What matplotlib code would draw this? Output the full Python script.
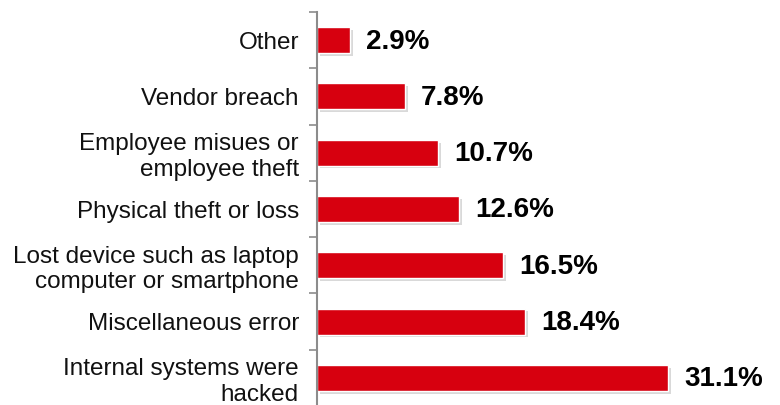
import matplotlib
matplotlib.use("Agg")
import matplotlib.pyplot as plt
import matplotlib.patheffects as pe
import numpy as np

plt.rcParams['font.family'] = ['Liberation Sans', 'DejaVu Sans']

categories = ["Other", "Vendor breach", "Employee misues or\nemployee theft",
              "Physical theft or loss", "Lost device such as laptop\ncomputer or smartphone",
              "Miscellaneous error", "Internal systems were\nhacked"]
values = [2.9, 7.8, 10.7, 12.6, 16.5, 18.4, 31.1]
value_labels = ["2.9%", "7.8%", "10.7%", "12.6%", "16.5%", "18.4%", "31.1%"]

fig = plt.figure(figsize=(7.8, 4.05), dpi=100)
ax = fig.add_axes([317 / 780, -1 / 405, 463 / 780, 394 / 405])

pos = np.arange(len(categories))
bars = ax.barh(pos, values, height=0.46, color='#D7000F', edgecolor='white', linewidth=1.0)
for b in bars:
    b.set_path_effects([pe.SimplePatchShadow(offset=(2, -2), shadow_rgbFace='#a0a0a0', alpha=0.4), pe.Normal()])

for p, v, lab in zip(pos, values, value_labels):
    ax.annotate(lab, (v, p), xytext=(11.5, -1), textcoords='offset points',
                ha='left', va='center', fontsize=20, fontweight='bold', color='black')

ax.set_xlim(0, 41)
ax.set_ylim(len(categories) - 0.5, -0.5)

ax.set_yticks(pos)
ax.set_yticklabels(categories, fontsize=17.5, color='#111111', linespacing=1.2)
ax.tick_params(axis='y', which='major', length=0, pad=13)
ax.set_yticks(np.arange(-0.5, len(categories), 1.0), minor=True)
ax.tick_params(axis='y', which='minor', length=6, width=1.2, color='#8c8c8c')
ax.set_xticks([])

for s in ['top', 'right', 'bottom']:
    ax.spines[s].set_visible(False)
ax.spines['left'].set_color('#8c8c8c')
ax.spines['left'].set_linewidth(1.5)

fig.savefig("out.png", dpi=100)
